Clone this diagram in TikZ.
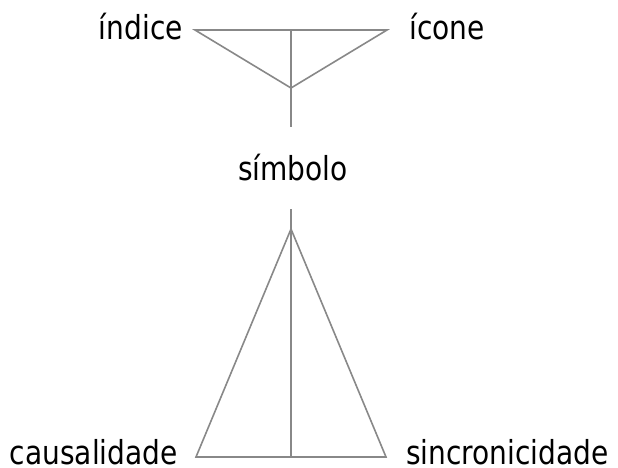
\documentclass[tikz,border=0pt]{standalone}
\usepackage{fontspec}
\setmainfont{DejaVu Sans}[FakeStretch=0.85]
\usetikzlibrary{positioning}
\definecolor{linegray}{RGB}{136,136,136}

\begin{document}
\begin{tikzpicture}[x=1pt,y=-1pt,font=\fontsize{33}{38}\selectfont,
  lin/.style={draw=linegray,line width=1.6pt},
  lbl/.style={inner sep=0pt,text=black}]
\useasboundingbox (0,0) rectangle (618,467);
% upper triangle
\coordinate (tl) at (195,30);
\coordinate (tr) at (387,30);
\coordinate (tm) at (291,30);
\coordinate (ta) at (291,88);
\coordinate (tb) at (291,127);
\node[lbl,anchor=base east] (indice) at (183,39) {índice};
\node[lbl,anchor=base west] (icone) at (409,39) {ícone};
\node[lbl,anchor=base] (simbolo) at (293,180) {símbolo};
% lower triangle
\coordinate (bt) at (291,209);
\coordinate (ba) at (291,229);
\coordinate (bl) at (196,457);
\coordinate (br) at (386,457);
\coordinate (bm) at (291,457);
\node[lbl,anchor=base east] (causal) at (178,464) {causalidade};
\node[lbl,anchor=base west] (sincro) at (406,464) {sincronicidade};
\draw[lin] (tl) -- (tr) -- (ta) -- cycle;
\draw[lin] (tm) -- (tb);
\draw[lin] (bt) -- (bm);
\draw[lin] (bl) -- (ba) -- (br) -- cycle;
\end{tikzpicture}
\end{document}
